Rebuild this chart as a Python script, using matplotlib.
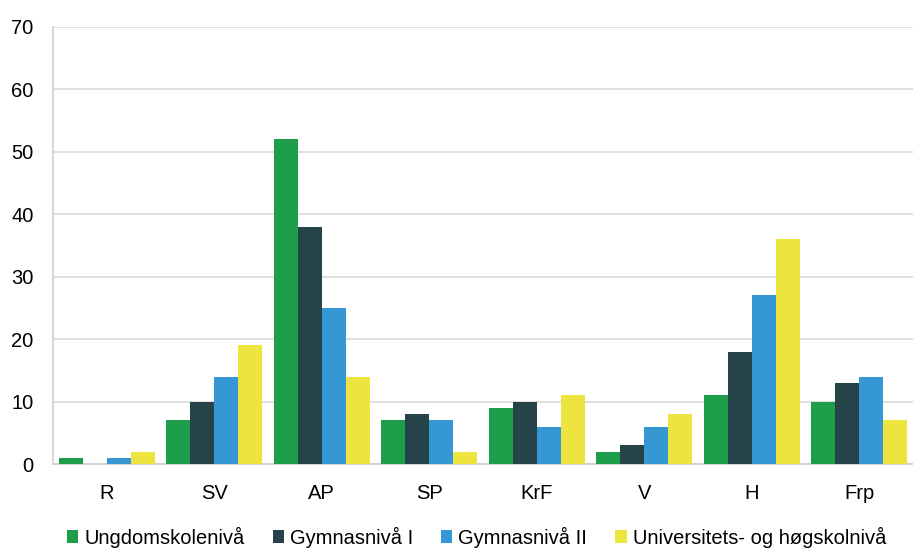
import matplotlib
matplotlib.use("Agg")
import matplotlib.pyplot as plt
import numpy as np

plt.rcParams['font.family'] = ['Liberation Sans', 'DejaVu Sans']

categories = ["R", "SV", "AP", "SP", "KrF", "V", "H", "Frp"]
series_names = ["Ungdomskolenivå", "Gymnasnivå I", "Gymnasnivå II", "Universitets- og høgskolnivå"]
ungdom = [1, 7, 52, 7, 9, 2, 11, 10]
gymn1 = [0, 10, 38, 8, 10, 3, 18, 13]
gymn2 = [1, 14, 25, 7, 6, 6, 27, 14]
univ = [2, 19, 14, 2, 11, 8, 36, 7]
yticks = [0, 10, 20, 30, 40, 50, 60, 70]

colors = ["#1e9e4a", "#27434a", "#3597d4", "#eee43f"]
data = [ungdom, gymn1, gymn2, univ]

fig = plt.figure(figsize=(9.13, 5.48), dpi=100)
ax = fig.add_axes([0.058, 0.153, 0.942, 0.798])

x = np.arange(len(categories))
w = 0.223
for i, (vals, c, name) in enumerate(zip(data, colors, series_names)):
    ax.bar(x + (i - 1.5) * w, vals, w, color=c, label=name, zorder=3)

ax.set_xlim(-0.5, len(categories) - 0.5)
ax.set_ylim(0, 70)
ax.set_yticks(yticks)
ax.set_xticks(x)
ax.set_xticklabels(categories)
ax.yaxis.grid(True, color="#d9d9d9", linewidth=1.2, zorder=0)
ax.tick_params(axis='both', length=0, labelsize=14.5, colors="#000000")
ax.tick_params(axis='x', pad=14)
ax.tick_params(axis='y', pad=14)
for s in ["top", "right"]:
    ax.spines[s].set_visible(False)
ax.spines["left"].set_color("#d0d0d0")
ax.spines["left"].set_linewidth(1.2)
ax.spines["bottom"].set_color("#d0d0d0")
ax.spines["bottom"].set_linewidth(1.2)

handles, labels = ax.get_legend_handles_labels()
fig.legend(handles, labels, loc="center", bbox_to_anchor=(0.522, 0.02), ncol=4,
           frameon=False, fontsize=14.5, handlelength=0.55, handleheight=0.55,
           handletextpad=0.3, columnspacing=1.4, borderpad=0, borderaxespad=0)

fig.savefig("out.png", dpi=100)
